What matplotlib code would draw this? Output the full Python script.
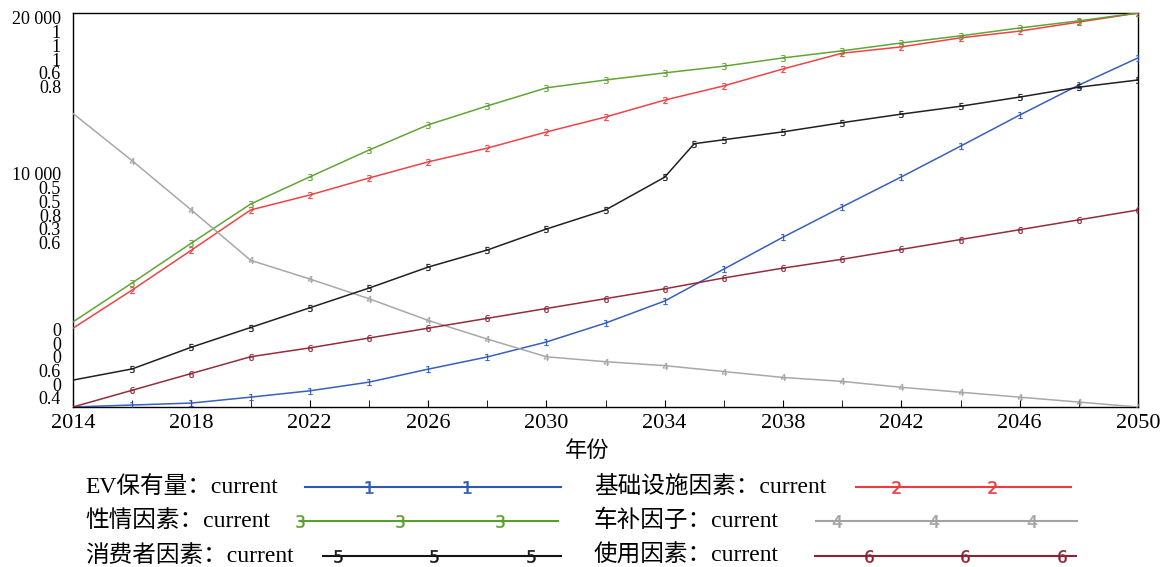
import matplotlib
matplotlib.use('Agg')
import matplotlib.pyplot as plt
from matplotlib.lines import Line2D

plt.rcParams['font.family'] = ['Liberation Serif', 'Noto Sans CJK SC']
plt.rcParams['mathtext.fontset'] = 'dejavusans'

years = list(range(2014, 2051, 2))
years_consumer = list(range(2014, 2035, 2)) + [2035] + list(range(2036, 2051, 2))

# values in each series' own units
ev_stock = [0, 100, 200, 500, 820, 1260, 1920, 2540, 3300, 4260, 5380, 7000,
            8620, 10160, 11680, 13240, 14820, 16340, 17720]
infra = [0.200, 0.297, 0.398, 0.500, 0.538, 0.581, 0.622, 0.657, 0.698, 0.736,
         0.779, 0.815, 0.858, 0.898, 0.914, 0.937, 0.954, 0.977, 1.0]
temper = [0.216, 0.315, 0.416, 0.515, 0.584, 0.652, 0.716, 0.764, 0.810, 0.830,
          0.848, 0.865, 0.886, 0.904, 0.924, 0.942, 0.962, 0.980, 1.0]
subsidy = [0.898, 0.850, 0.800, 0.749, 0.730, 0.710, 0.688, 0.669, 0.651, 0.646,
           0.642, 0.636, 0.630, 0.626, 0.620, 0.615, 0.610, 0.605, 0.600]
consumer = [0.041, 0.058, 0.091, 0.121, 0.151, 0.181, 0.213, 0.239, 0.271, 0.300,
            0.350, 0.401, 0.407, 0.419, 0.433, 0.446, 0.458, 0.472, 0.487, 0.498]
usage = [0.400, 0.417, 0.434, 0.451, 0.460, 0.470, 0.480, 0.490, 0.500, 0.510,
         0.520, 0.531, 0.541, 0.550, 0.560, 0.570, 0.580, 0.590, 0.600]

names = ['EV保有量：current', '基础设施因素：current', '性情因素：current',
         '车补因子：current', '消费者因素：current', '使用因素：current']
# per-series scale (min, max) and tick labels (top, middle, bottom)
ranges = [(0, 20000), (0, 1), (0, 1), (0.6, 1), (0, 0.6), (0.4, 0.8)]
tick_top = ['20 000', '1', '1', '1', '0.6', '0.8']
tick_mid = ['10 000', '0.5', '0.5', '0.8', '0.3', '0.6']
tick_bot = ['0', '0', '0', '0.6', '0', '0.4']

colors = ['#2d58b5', '#ec3a3e', '#5a9f2c', '#a3a3a3', '#151515', '#8c2333']
series = [(years, ev_stock), (years, infra), (years, temper),
          (years, subsidy), (years_consumer, consumer), (years, usage)]

fig = plt.figure(figsize=(11.67, 5.67), dpi=100)
ax = fig.add_axes([73 / 1167, 1 - 407 / 567, 1065 / 1167, 394 / 567])
ax.set_xlim(2014, 2050)
ax.set_ylim(0, 1)
ax.set_yticks([])
ax.set_xticks(range(2014, 2051, 4))
ax.set_xticks(range(2014, 2051, 2), minor=True)
ax.tick_params(axis='x', which='both', direction='in', length=5, labelsize=16, pad=5)
for s in ax.spines.values():
    s.set_linewidth(1.0)

for i, (xs, ys) in enumerate(series):
    tw = ax.twinx()
    tw.set_ylim(*ranges[i])
    tw.set_xlim(2014, 2050)
    tw.axis('off')
    tw.plot(xs, ys, color=colors[i], lw=1.1, marker='$%d$' % (i + 1),
            markersize=5, markevery=slice(1, None), markeredgewidth=0.2,
            alpha=0.95)

# stacked scale labels (Vensim style)
step = 13.7
for i in range(6):
    ax.annotate(tick_top[i], (0, 1), xycoords='axes fraction',
                xytext=(-12, -7 - i * step), textcoords='offset pixels',
                ha='right', va='center', fontsize=13)
    ax.annotate(tick_mid[i], (0, 0.5), xycoords='axes fraction',
                xytext=(-12, 34 - i * step), textcoords='offset pixels',
                ha='right', va='center', fontsize=13)
    ax.annotate(tick_bot[i], (0, 0), xycoords='axes fraction',
                xytext=(-12, 7 + (5 - i) * step), textcoords='offset pixels',
                ha='right', va='center', fontsize=13)

fig.text(587 / 1167, 1 - 452 / 567, '年份', ha='center', va='center', fontsize=16)

# legend, label first then line sample
W, H = 1167, 567
legend_pos = [
    (85, 487, 305, 561, [369, 467]),
    (594, 487, 856, 1071, [896, 992]),
    (85, 521, 300, 558, [300, 400, 500]),
    (594, 521, 816, 1077, [837, 934, 1032]),
    (85, 556, 323, 561, [338, 434, 531]),
    (594, 556, 815, 1076, [869, 965, 1062]),
]
for i, (tx, ty, x0, x1, mks) in enumerate(legend_pos):
    fig.text(tx / W, 1 - ty / H, names[i], ha='left', va='center', fontsize=17)
    fig.add_artist(Line2D([x0 / W, x1 / W], [1 - ty / H, 1 - ty / H],
                          color=colors[i], lw=1.5, transform=fig.transFigure))
    fig.add_artist(Line2D([m / W for m in mks], [1 - ty / H] * len(mks),
                          color=colors[i], lw=0, marker='$%d$' % (i + 1),
                          markersize=9, markeredgewidth=0.3,
                          transform=fig.transFigure))

fig.savefig('out.png', dpi=100)
